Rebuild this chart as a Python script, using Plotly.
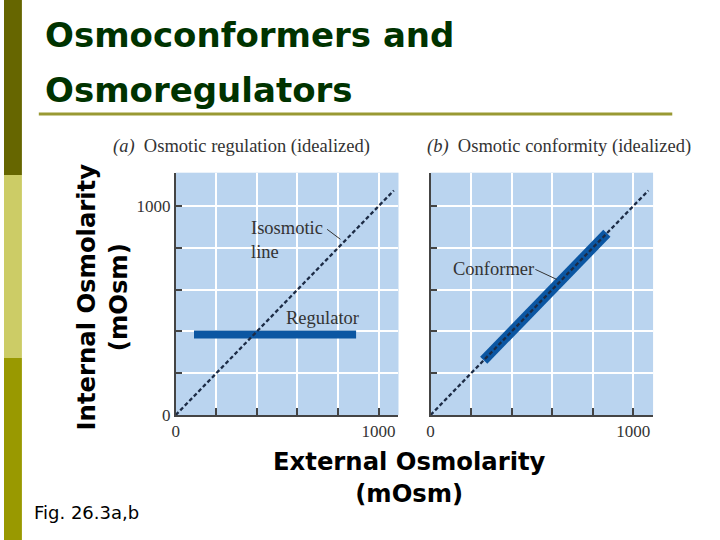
import plotly.graph_objects as go

# ---- data ----
iso_x = [0, 1075]
iso_y = [0, 1075]
reg_x = [90, 889]
reg_y = [385, 385]
conf_x = [262, 870]
conf_y = [262, 870]
tick_vals = [0, 200, 400, 600, 800, 1000]
tick_text = ["0", "", "", "", "", "1000"]
panel_titles = ["<i>(a)</i>  Osmotic regulation (idealized)",
                "<i>(b)</i>  Osmotic conformity (idealized)"]

W, H = 720, 540          # reference frame used for placement
H_RENDER = 550           # page height (screenshot is scaled back to 540)
def px(x):
    return x / W
def py(y):
    return 1 - y / H

BLUE_BG = "#BAD4EF"
DASH_C = "#1c2b45"
BAR_C = "#0B56A2"
SERIF = "Liberation Serif"
SANSB = "DejaVu Sans"

fig = go.Figure()

# panel a
fig.add_trace(go.Scatter(x=reg_x, y=reg_y, mode="lines",
                         line=dict(color=BAR_C, width=8),
                         xaxis="x", yaxis="y", showlegend=False, hoverinfo="skip"))
fig.add_trace(go.Scatter(x=iso_x, y=iso_y, mode="lines",
                         line=dict(color=DASH_C, width=2.3, dash="4px,2.5px"),
                         xaxis="x", yaxis="y", showlegend=False, hoverinfo="skip"))
# panel b
fig.add_trace(go.Scatter(x=conf_x, y=conf_y, mode="lines",
                         line=dict(color=BAR_C, width=10),
                         xaxis="x2", yaxis="y2", showlegend=False, hoverinfo="skip"))
fig.add_trace(go.Scatter(x=iso_x, y=iso_y, mode="lines",
                         line=dict(color=DASH_C, width=2.3, dash="4px,2.5px"),
                         xaxis="x2", yaxis="y2", showlegend=False, hoverinfo="skip"))

axis_common = dict(range=[0, 1098], tickvals=tick_vals, ticktext=tick_text,
                   showgrid=True, gridcolor="white", gridwidth=1.5,
                   showline=True, linecolor="#444444", linewidth=1.5,
                   ticks="inside", ticklen=7, tickwidth=1.5, tickcolor="#444444",
                   zeroline=False, fixedrange=True,
                   tickfont=dict(family=SERIF, size=17, color="#333333"))
yaxis_common = dict(axis_common)
yaxis_common["range"] = [0, 1160]

xd_a = [px(172.7), px(396.7)]
xd_b = [px(429), px(652.7)]
yd = [py(415), py(172.7)]

fig.update_layout(
    width=W, height=H_RENDER,
    margin=dict(l=0, r=0, t=0, b=0),
    paper_bgcolor="white",
    plot_bgcolor=BLUE_BG,
    xaxis=dict(axis_common, domain=xd_a, anchor="y"),
    yaxis=dict(yaxis_common, domain=yd, anchor="x"),
    xaxis2=dict(axis_common, domain=xd_b, anchor="y2"),
    yaxis2=dict(yaxis_common, domain=yd, anchor="x2", showticklabels=False),
)

shapes = [
    dict(type="rect", xref="paper", yref="paper", x0=0, x1=px(18), y0=py(0), y1=py(175),
         fillcolor="#666600", line=dict(width=0), layer="below"),
    dict(type="rect", xref="paper", yref="paper", x0=0, x1=px(18), y0=py(175), y1=py(358),
         fillcolor="#CCCC66", line=dict(width=0), layer="below"),
    dict(type="rect", xref="paper", yref="paper", x0=0, x1=px(18), y0=py(358), y1=py(540),
         fillcolor="#999900", line=dict(width=0), layer="below"),
    dict(type="line", xref="paper", yref="paper", x0=px(35), x1=px(672), y0=py(114), y1=py(114),
         line=dict(color="#999933", width=3)),
    # leader lines
    dict(type="line", xref="x", yref="y", x0=746, y0=889, x1=812, y1=841,
         line=dict(color="#333333", width=1)),
    dict(type="line", xref="x2", yref="y2", x0=517, y0=697, x1=623, y1=649,
         line=dict(color="#333333", width=1)),
]
fig.update_layout(shapes=shapes)

ann = []
# title (two lines)
ann.append(dict(text="Osmoconformers and", xref="paper", yref="paper",
                x=px(39), y=py(35), xanchor="left", yanchor="middle", showarrow=False,
                font=dict(family=SANSB, size=34, color="#003300", weight="bold")))
ann.append(dict(text="Osmoregulators", xref="paper", yref="paper",
                x=px(39), y=py(90), xanchor="left", yanchor="middle", showarrow=False,
                font=dict(family=SANSB, size=34, color="#003300", weight="bold")))
# panel titles
ann.append(dict(text=panel_titles[0], xref="paper", yref="paper",
                x=px(108), y=py(147), xanchor="left", yanchor="middle", showarrow=False,
                font=dict(family=SERIF, size=18.5, color="#333333")))
ann.append(dict(text=panel_titles[1], xref="paper", yref="paper",
                x=px(423), y=py(147), xanchor="left", yanchor="middle", showarrow=False,
                font=dict(family=SERIF, size=18.5, color="#333333")))
# in-plot labels
ann.append(dict(text="Isosmotic<br>line", xref="x", yref="y", x=360, y=836,
                xanchor="left", yanchor="middle", align="left", showarrow=False,
                font=dict(family=SERIF, size=18.5, color="#333333")))
ann.append(dict(text="Regulator", xref="x", yref="y", x=725, y=465,
                xanchor="center", yanchor="middle", showarrow=False,
                font=dict(family=SERIF, size=18.5, color="#333333")))
ann.append(dict(text="Conformer", xref="x2", yref="y2", x=308, y=697,
                xanchor="center", yanchor="middle", showarrow=False,
                font=dict(family=SERIF, size=18.5, color="#333333")))
# axis titles
ann.append(dict(text="Internal Osmolarity<br>(mOsm)", xref="paper", yref="paper",
                x=px(99), y=py(297), xanchor="center", yanchor="middle", textangle=-90,
                showarrow=False,
                font=dict(family=SANSB, size=24.3, color="black", weight="bold")))
ann.append(dict(text="External Osmolarity<br>(mOsm)", xref="paper", yref="paper",
                x=px(408), y=py(477), xanchor="center", yanchor="middle",
                showarrow=False,
                font=dict(family=SANSB, size=24.3, color="black", weight="bold")))
ann.append(dict(text="Fig. 26.3a,b", xref="paper", yref="paper",
                x=px(28), y=py(512), xanchor="left", yanchor="middle", showarrow=False,
                font=dict(family=SANSB, size=18, color="black")))
fig.update_layout(annotations=ann)

fig.write_html("out.html", config={"displayModeBar": False},
               post_script="document.body.style.margin='0';document.body.style.overflow='hidden';")
